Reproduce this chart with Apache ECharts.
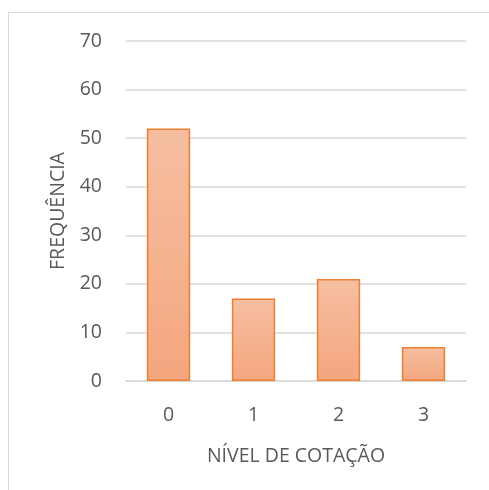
<!DOCTYPE html>
<html><head><meta charset="utf-8">
<script src="https://cdn.jsdelivr.net/npm/echarts@6/dist/echarts.min.js"></script>
<style>html,body{margin:0;padding:0;background:#fff}#c{width:489px;height:490px;position:absolute;left:0;top:0}
#frame{position:absolute;left:8px;top:12px;width:490px;height:490px;border:1px solid #D9D9D9;box-sizing:border-box}</style>
</head><body><div id="frame"></div><div id="c"></div>
<script>
const categories = ['0', '1', '2', '3'];
const frequencies = [52, 17, 21, 7];
const yTicks = [0, 10, 20, 30, 40, 50, 60, 70];
const chart = echarts.init(document.getElementById('c'), null, {renderer: 'canvas'});
const font = '"Open Sans", "Liberation Sans", sans-serif';
chart.setOption({
  backgroundColor: 'transparent',
  animation: false,
  grid: {left: 126, right: 23, top: 41, bottom: 109, containLabel: false},
  xAxis: {
    type: 'category', data: categories,
    name: 'NÍVEL DE COTAÇÃO', nameLocation: 'middle', nameGap: 65,
    nameTextStyle: {color: '#595959', fontSize: 19.5, fontFamily: font},
    axisLine: {show: true, lineStyle: {color: '#D9D9D9', width: 1.5}},
    axisTick: {show: false},
    axisLabel: {color: '#595959', fontSize: 19.5, fontFamily: font, margin: 24}
  },
  yAxis: {
    type: 'value', min: yTicks[0], max: yTicks[yTicks.length-1], interval: 10,
    name: 'FREQUÊNCIA', nameLocation: 'middle', nameGap: 57, nameRotate: 90,
    nameTextStyle: {color: '#595959', fontSize: 19.5, fontFamily: font},
    axisLine: {show: false}, axisTick: {show: false},
    axisLabel: {color: '#595959', fontSize: 19.5, fontFamily: font, margin: 24},
    splitLine: {lineStyle: {color: '#D9D9D9', width: 1.5}}
  },
  series: [{
    type: 'bar', data: frequencies, barWidth: '51%',
    itemStyle: {
      color: new echarts.graphic.LinearGradient(0, 0, 0, 1, [
        {offset: 0, color: '#F6BFA2'}, {offset: 1, color: '#F4A67E'}
      ]),
      borderColor: '#ED7D31', borderWidth: 1.5
    }
  }]
});
</script></body></html>
